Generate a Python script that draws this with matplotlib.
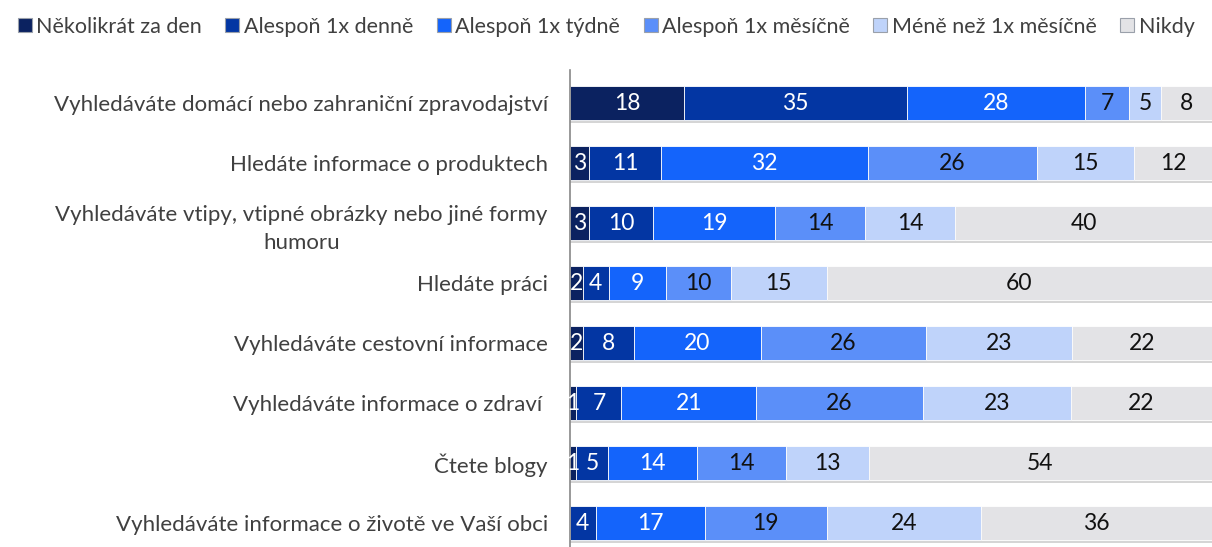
import matplotlib
matplotlib.use("Agg")
import matplotlib.pyplot as plt
import matplotlib.patheffects as pe
from matplotlib.patches import Patch
import numpy as np

plt.rcParams['font.family'] = ['Lato', 'DejaVu Sans']

categories = [
    "Vyhledáváte domácí nebo zahraniční zpravodajství",
    "Hledáte informace o produktech",
    "Vyhledáváte vtipy, vtipné obrázky nebo jiné formy\nhumoru",
    "Hledáte práci",
    "Vyhledáváte cestovní informace",
    "Vyhledáváte informace o zdraví ",
    "Čtete blogy",
    "Vyhledáváte informace o životě ve Vaší obci",
]
series_names = ["Několikrát za den", "Alespoň 1x denně", "Alespoň 1x týdně",
                "Alespoň 1x měsíčně", "Méně než 1x měsíčně", "Nikdy"]
several_daily = [18, 3, 3, 2, 2, 1, 1, 0]
daily = [35, 11, 10, 4, 8, 7, 5, 4]
weekly = [28, 32, 19, 9, 20, 21, 14, 17]
monthly = [7, 26, 14, 10, 26, 26, 14, 19]
less_monthly = [5, 15, 14, 15, 23, 23, 13, 24]
never = [8, 12, 40, 60, 22, 22, 54, 36]

series = [several_daily, daily, weekly, monthly, less_monthly, never]
colors = ["#0b2260", "#0336a3", "#1464fb", "#5b8ff9", "#bfd3fa", "#e3e3e6"]
text_colors = ["white", "white", "white", "#111111", "#111111", "#111111"]

data = np.array(series, dtype=float)
totals = data.sum(axis=0)
shares = data / totals * 100  # 100% stacked

fig = plt.figure(figsize=(12.12, 5.47), dpi=100)
ax = fig.add_axes([570/1212, 0, (1212-570)/1212, (547-70)/547])

y = np.arange(len(categories))
left = np.zeros(len(categories))
shadow = [pe.SimplePatchShadow(offset=(0, -2.5), shadow_rgbFace='#888888', alpha=0.35), pe.Normal()]
for raw, vals, c, tc, name in zip(data, shares, colors, text_colors, series_names):
    bars = ax.barh(y, vals, left=left, height=0.56, color=c, edgecolor='white',
                   linewidth=0.6, label=name)
    for b in bars:
        b.set_path_effects(shadow)
    for yi, r, v, l in zip(y, raw, vals, left):
        if r > 0:
            ax.text(l + v / 2, yi, f"{int(r)}", ha='center', va='center',
                    color=tc, fontsize=16.5)
    left += vals

ax.set_xlim(0, 100)
ax.set_ylim(7.4, -0.55)
ax.set_yticks(y)
ax.set_yticklabels(categories, fontsize=16, color='#404040', multialignment='center',
                   linespacing=1.5)
ax.tick_params(axis='y', length=0, pad=16)
ax.set_xticks([])
for s in ['top', 'right', 'bottom']:
    ax.spines[s].set_visible(False)
ax.spines['left'].set_color('#888888')
ax.spines['left'].set_linewidth(1.2)

handles = [Patch(facecolor=c, edgecolor='#9aa0aa', linewidth=0.8) for c in colors]
fig.legend(handles, series_names, loc='upper left', bbox_to_anchor=(0.003, 0.995),
           ncol=6, frameon=False, fontsize=15.5, handlelength=0.65, handleheight=0.65,
           handletextpad=0.2, columnspacing=1.1, labelcolor='#404040',
           borderaxespad=0.25)

fig.savefig("out.png", dpi=100)
